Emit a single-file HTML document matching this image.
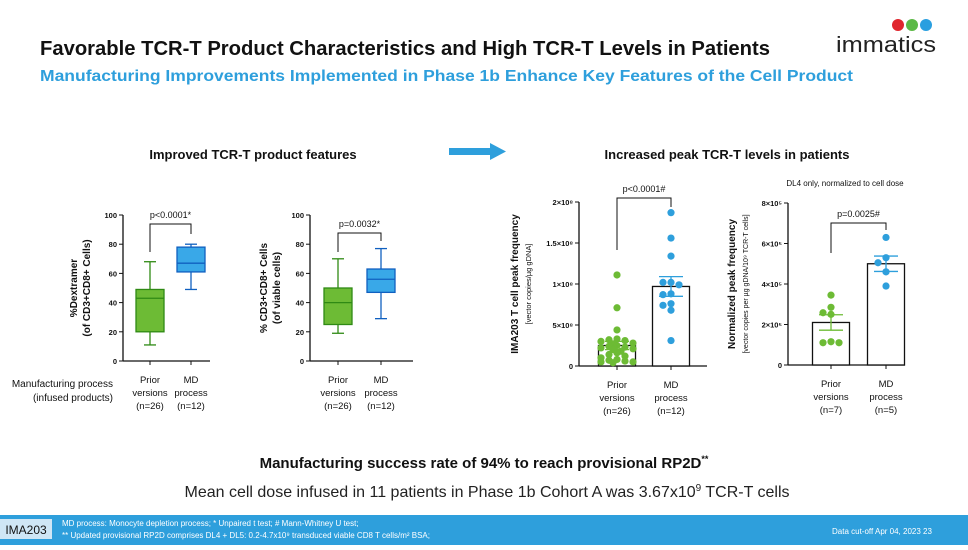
<!DOCTYPE html>
<html><head><meta charset="utf-8"><style>
body{margin:0;width:968px;height:545px;overflow:hidden;background:#fff;font-family:"Liberation Sans",sans-serif}
svg text{font-family:"Liberation Sans",sans-serif}
</style></head><body>
<svg id="s" width="968" height="545" viewBox="0 0 968 545" xmlns="http://www.w3.org/2000/svg">
<text x="40" y="55" font-size="20" font-weight="bold" fill="#111" textLength="730" lengthAdjust="spacingAndGlyphs">Favorable TCR-T Product Characteristics and High TCR-T Levels in Patients</text>
<text x="40" y="81" font-size="16" font-weight="bold" fill="#2e9fdc" textLength="813" lengthAdjust="spacingAndGlyphs">Manufacturing Improvements Implemented in Phase 1b Enhance Key Features of the Cell Product</text>
<g>
<circle cx="898" cy="25" r="6" fill="#e0262e"/><circle cx="912" cy="25" r="6" fill="#5cb946"/><circle cx="926" cy="25" r="6" fill="#2a9fe0"/>
<text x="836" y="52" font-size="22" fill="#222" textLength="100" lengthAdjust="spacingAndGlyphs">immatics</text>
</g>
<text x="253" y="159" font-size="13" font-weight="bold" text-anchor="middle" fill="#111">Improved TCR-T product features</text>
<g><rect x="449" y="148" width="42" height="7" fill="#2e9fdc"/><polygon points="490,143 506,151.5 490,160" fill="#2e9fdc"/></g>
<text x="727" y="159" font-size="13" font-weight="bold" text-anchor="middle" fill="#111">Increased peak TCR-T levels in patients</text>
<text x="113" y="387" font-size="10" text-anchor="end" fill="#111">Manufacturing process</text>
<text x="113" y="401" font-size="10" text-anchor="end" fill="#111">(infused products)</text>
<text x="845" y="186" font-size="8" text-anchor="middle" fill="#111">DL4 only, normalized to cell dose</text>
<text x="484" y="468" font-size="15" font-weight="bold" text-anchor="middle" fill="#111">Manufacturing success rate of 94% to reach provisional RP2D<tspan font-size="9" dy="-6">**</tspan></text>
<text x="487" y="497" font-size="16" text-anchor="middle" fill="#222">Mean cell dose infused in 11 patients in Phase 1b Cohort A was 3.67x10<tspan font-size="10" dy="-6">9</tspan><tspan dy="6"> TCR-T cells</tspan></text>
<g>
<rect x="0" y="515" width="968" height="30" fill="#2e9fdc"/>
<rect x="0" y="519" width="52" height="20" fill="#cfe6f5"/>
<text x="26" y="534" font-size="12" text-anchor="middle" fill="#111">IMA203</text>
<text x="62" y="526" font-size="8" fill="#fff">MD process: Monocyte depletion process; * Unpaired t test; # Mann-Whitney U test;</text>
<text x="62" y="538" font-size="8" fill="#fff">** Updated provisional RP2D comprises DL4 + DL5: 0.2-4.7x10⁹ transduced viable CD8 T cells/m² BSA;</text>
<text x="832" y="534" font-size="8" fill="#fff">Data cut-off Apr 04, 2023   23</text>
</g>
<g id="charts"></g>
</svg>
<script>
// Box plot data [whiskerLow, Q1, median, Q3, whiskerHigh]
const boxGroups = ["Prior versions (n=26)", "MD process (n=12)"];
const dextramerBoxes = [[11,20,43,49,68],[49,61,67,78,80]];
const viableBoxes = [[19,25,40,50,70],[29,47,56,63,77]];
const boxTicks = [0,20,40,60,80,100];
// Scatter/bar data
const peakPrior = [1.11,0.71,0.44,0.33,0.32,0.31,0.30,0.28,0.27,0.25,0.24,0.23,0.22,0.21,0.20,0.18,0.16,0.14,0.12,0.10,0.08,0.07,0.06,0.05,0.05,0.04];
const peakMD = [1.87,1.56,1.34,1.02,1.02,0.99,0.88,0.87,0.76,0.74,0.68,0.31];
const peakMeans = [0.25,0.97];
const peakSEM = [0.05,0.12];
const peakTicks = [0,0.5,1,1.5,2];
const peakTickLabels = ["0","5×10⁸","1×10⁸","1.5×10⁸","2×10⁸"];
const normPrior = [3.45,2.85,2.5,2.58,1.1,1.15,1.1];
const normMD = [6.3,5.3,5.05,4.6,3.9];
const normMeans = [2.1,5.0];
const normSEM = [0.38,0.38];
const normTicks = [0,2,4,6,8];
const normTickLabels = ["0","2×10⁵","4×10⁵","6×10⁵","8×10⁵"];
const xLabels = [["Prior","versions","(n=26)"],["MD","process","(n=12)"]];
const xLabels4 = [["Prior","versions","(n=7)"],["MD","process","(n=5)"]];

const NS="http://www.w3.org/2000/svg";
const root=document.getElementById('charts');
function el(tag,attrs,parent){const e=document.createElementNS(NS,tag);for(const k in attrs)e.setAttribute(k,attrs[k]);(parent||root).appendChild(e);return e;}
function txt(x,y,s,size,anchor,parent,extra){const t=el('text',Object.assign({x:x,y:y,'font-size':size,'text-anchor':anchor||'middle',fill:'#111'},extra||{}),parent);t.textContent=s;return t;}

function axes(g,ax,y0,y1,xEnd,ticks,labels,scale,xs,xl){
  el('line',{x1:ax,y1:y0,x2:ax,y2:y1,stroke:'#111','stroke-width':1.3},g);
  el('line',{x1:ax,y1:y0,x2:xEnd,y2:y0,stroke:'#111','stroke-width':1.3},g);
  ticks.forEach((t,i)=>{const y=scale(t);el('line',{x1:ax-4,y1:y,x2:ax,y2:y,stroke:'#111'},g);txt(ax-6,y+3,labels[i],7.5,'end',g,{'font-weight':'bold'});});
  xs.forEach((x,i)=>{el('line',{x1:x,y1:y0,x2:x,y2:y0+4,stroke:'#111'},g);xl[i].forEach((s,j)=>txt(x,y0+22+j*13,s,9.5,'middle',g));});
}
function bracket(g,x1,x2,top,l,r,label){
  el('polyline',{points:`${x1},${l} ${x1},${top} ${x2},${top} ${x2},${r}`,fill:'none',stroke:'#111'},g);
  txt((x1+x2)/2,top-6,label,9,'middle',g);
}
function ytitle(g,x,y,lines,sizes,bold){
  lines.forEach((s,i)=>{txt(0,0,s,sizes[i],'middle',g,{transform:`translate(${x+i*13},${y}) rotate(-90)`,'font-weight':bold[i]?'bold':'normal'});});
}

function boxChart(name,ax,xEnd,xs,data){
  const g=el('g',{});
  
  
  const y0=361,y1=215;const sc=v=>y0-(v/100)*(y0-y1);
  axes(g,ax,y0,y1,xEnd,boxTicks,boxTicks.map(String),sc,xs,xLabels);
  const cols=[['#6dbb35','#2f8a14'],['#39a8e8','#1060c0']];
  data.forEach((d,i)=>{
    const x=xs[i],w=28;const b=el('g',{},g);
    
    
    el('line',{x1:x,y1:sc(d[0]),x2:x,y2:sc(d[4]),stroke:cols[i][1],'stroke-width':1.3},b);
    el('line',{x1:x-6,y1:sc(d[0]),x2:x+6,y2:sc(d[0]),stroke:cols[i][1],'stroke-width':1.3},b);
    el('line',{x1:x-6,y1:sc(d[4]),x2:x+6,y2:sc(d[4]),stroke:cols[i][1],'stroke-width':1.3},b);
    el('rect',{x:x-w/2,y:sc(d[3]),width:w,height:sc(d[1])-sc(d[3]),fill:cols[i][0],stroke:cols[i][1],'stroke-width':1.3},b);
    el('line',{x1:x-w/2,y1:sc(d[2]),x2:x+w/2,y2:sc(d[2]),stroke:cols[i][1],'stroke-width':1.3},b);
  });
  return {g,sc};
}
let c1=boxChart('dextramer-boxplot',123,210,[150,191],dextramerBoxes);
bracket(c1.g,150,191,224,252,234,'p<0.0001*');
ytitle(c1.g,77,288,['%Dextramer','(of CD3+CD8+ Cells)'],[10,10],[true,true]);
let c2=boxChart('viable-cells-boxplot',310,413,[338,381],viableBoxes);
bracket(c2.g,338,381,233,252,241,'p=0.0032*');
ytitle(c2.g,267,288,['% CD3+CD8+ Cells','(of viable cells)'],[10,10],[true,true]);

const jitterPattern=[0,-8,8,-16,16,-4,4,-12,12,-20,20];
function dotChart(name,ax,xEnd,xs,y0,y1,maxV,ticks,tl,pts,means,sem,xl){
  const g=el('g',{});
  
  
  const sc=v=>y0-(v/maxV)*(y0-y1);
  axes(g,ax,y0,y1,xEnd,ticks,tl,sc,xs,xl);
  const cols=['#6dbb35','#2e9fdc'];
  means.forEach((m,i)=>{
    const bar=el('rect',{x:xs[i]-18.5,y:sc(m),width:37,height:y0-sc(m),fill:'#fff',stroke:'#111','stroke-width':1.3},g);
    
    
  });
  pts.forEach((arr,i)=>{
    const sorted=arr.slice().sort((a,b)=>b-a);
    let start=-99,k=0;
    sorted.forEach((v)=>{
      const y=sc(v);
      if(Math.abs(y-start)<6.5){k++;}else{k=0;start=y;}
      const off=jitterPattern[k%jitterPattern.length];
      const c=el('circle',{cx:xs[i]+off,cy:y,r:3.6,fill:cols[i]},g);
      
      
    });
  });
  means.forEach((m,i)=>{
    const c=cols[i];
    el('line',{x1:xs[i],y1:sc(m-sem[i]),x2:xs[i],y2:sc(m+sem[i]),stroke:c,'stroke-width':1.3},g);
    el('line',{x1:xs[i]-12,y1:sc(m-sem[i]),x2:xs[i]+12,y2:sc(m-sem[i]),stroke:c,'stroke-width':1.3},g);
    el('line',{x1:xs[i]-12,y1:sc(m+sem[i]),x2:xs[i]+12,y2:sc(m+sem[i]),stroke:c,'stroke-width':1.3},g);
  });
  return {g,sc};
}
let c3=dotChart('peak-frequency-chart',579,707,[617,671],366,202,2,peakTicks,peakTickLabels,[peakPrior,peakMD],peakMeans,peakSEM,xLabels);
bracket(c3.g,617,671,198,250,207,'p<0.0001#');
ytitle(c3.g,518,284,['IMA203 T cell peak frequency','[vector copies/µg gDNA]'],[10,7.5],[true,false]);
let c4=dotChart('normalized-peak-chart',788,905,[831,886],365,203,8,normTicks,normTickLabels,[normPrior,normMD],normMeans,normSEM,xLabels4);
bracket(c4.g,831,886,223,253,230,'p=0.0025#');
ytitle(c4.g,735,284,['Normalized peak frequency','[vector copies per µg gDNA/10⁹ TCR-T cells]'],[10,7],[true,false]);
</script>
</body></html>
